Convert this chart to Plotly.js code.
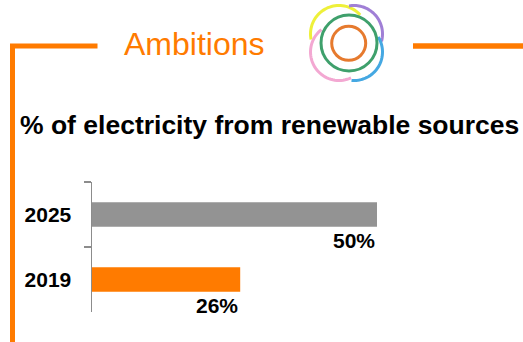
<!DOCTYPE html>
<html>
<head>
<meta charset="utf-8">
<script src="https://cdn.plot.ly/plotly-3.0.1.min.js"></script>
<style>html,body{margin:0;padding:0;background:#fff;}#chart{width:523px;height:342px;}</style>
</head>
<body>
<div id="chart"></div>
<script>
// ---- data ----
var years = ['2019', '2025'];
var shares = [26, 50];
var valueLabels = ['26%', '50%'];
var barColors = ['#ff7b00', '#939393'];
var heading = 'Ambitions';
var chartTitle = '% of electricity from renewable sources';

// ---- helpers (pixel -> paper) ----
var W = 523, H = 342;
function px(x) { return x / W; }
function py(y) { return 1 - y / H; }
function arcPath(cx, cy, r, a0, a1) {
  var n = 40, d = '';
  for (var i = 0; i <= n; i++) {
    var a = (a0 + (a1 - a0) * i / n) * Math.PI / 180;
    var x = px(cx + r * Math.cos(a)), y = py(cy + r * Math.sin(a));
    d += (i === 0 ? 'M' : 'L') + x.toFixed(5) + ',' + y.toFixed(5);
  }
  return d;
}

var orange = '#ff7b00';
var FONT = 'Liberation Sans, Arial, Helvetica, sans-serif';

var trace = {
  type: 'bar',
  orientation: 'h',
  y: years,
  x: shares,
  width: 0.38,
  marker: { color: barColors },
  textposition: 'none',
  hoverinfo: 'none'
};

var shapes = [
  // orange frame
  { type: 'path', xref: 'paper', yref: 'paper',
    path: 'M' + px(12.5) + ',' + py(345) + 'L' + px(12.5) + ',' + py(46) + 'L' + px(97.5) + ',' + py(46),
    line: { color: orange, width: 5 } },
  { type: 'line', xref: 'paper', yref: 'paper', x0: px(413), x1: px(525), y0: py(46), y1: py(46),
    line: { color: orange, width: 5.5 } },
  // logo arcs
  { type: 'path', xref: 'paper', yref: 'paper', path: arcPath(339, 34, 28.5, 169, 318), line: { color: '#eef03a', width: 3 } },
  { type: 'path', xref: 'paper', yref: 'paper', path: arcPath(354, 34, 28.5, 260, 375), line: { color: '#a07fd6', width: 3 } },
  { type: 'path', xref: 'paper', yref: 'paper', path: arcPath(354, 52, 28.5, -32, 95), line: { color: '#45a8e2', width: 3 } },
  { type: 'path', xref: 'paper', yref: 'paper', path: arcPath(339, 52, 28.5, 65, 232), line: { color: '#f3a8d2', width: 3 } },
  { type: 'circle', xref: 'paper', yref: 'paper', x0: px(349 - 28), x1: px(349 + 28), y0: py(43 - 28), y1: py(43 + 28),
    line: { color: '#3fa06c', width: 3 } },
  { type: 'circle', xref: 'paper', yref: 'paper', x0: px(348.7 - 17), x1: px(348.7 + 17), y0: py(43.3 - 17), y1: py(43.3 + 17),
    line: { color: '#e67a2e', width: 3 } }
];

var annotations = [
  { xref: 'paper', yref: 'paper', x: px(194), y: py(44), text: heading, showarrow: false,
    xanchor: 'center', yanchor: 'middle',
    font: { family: FONT, size: 32, color: orange } },
  { xref: 'paper', yref: 'paper', x: px(18), y: py(125), text: chartTitle, showarrow: false,
    xanchor: 'left', yanchor: 'middle',
    font: { family: FONT, size: 26.5, color: '#000', weight: 'bold' } }
];
for (var i = 0; i < years.length; i++) {
  annotations.push({ xref: 'x', yref: 'y', x: shares[i], y: i, text: valueLabels[i], showarrow: false,
    xanchor: 'right', yanchor: 'middle', yshift: -26,
    font: { family: FONT, size: 21, color: '#000', weight: 'bold' } });
}

var layout = {
  width: W, height: H,
  margin: { l: 0, r: 0, t: 0, b: 0 },
  paper_bgcolor: '#fff', plot_bgcolor: '#fff',
  showlegend: false,
  xaxis: { domain: [px(92), px(519.5)], range: [0, 75], showline: false, showgrid: false, zeroline: false,
    showticklabels: false, ticks: '', fixedrange: true },
  yaxis: {
    domain: [py(312), py(182)], range: [-0.5, 1.5], type: 'category',
    showline: true, linecolor: '#8c8c8c', linewidth: 1.5,
    ticks: 'outside', tickson: 'boundaries', ticklen: 7, tickcolor: '#8c8c8c', tickwidth: 1.5,
    ticklabelstandoff: 15,
    showgrid: false, zeroline: false, fixedrange: true,
    tickfont: { family: FONT, size: 21, color: '#000', weight: 'bold' }
  },
  shapes: shapes,
  annotations: annotations
};

Plotly.newPlot('chart', [trace], layout, { displayModeBar: false, staticPlot: true });
</script>
</body>
</html>
